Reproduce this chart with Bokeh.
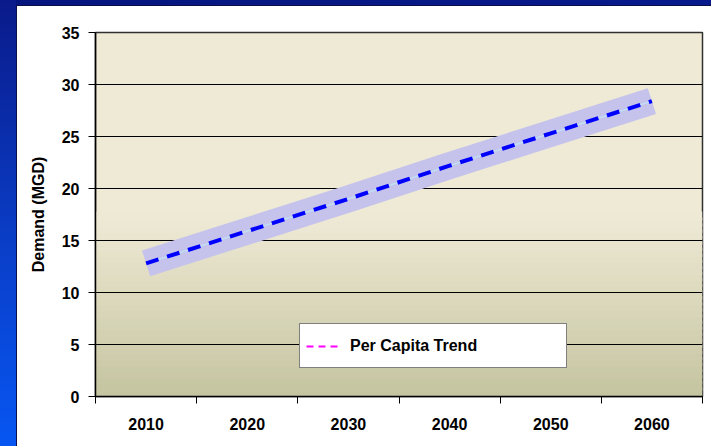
from bokeh.plotting import figure
from bokeh.models import FixedTicker, Legend, LegendItem, ColumnDataSource
from bokeh.embed import file_html
from bokeh.resources import INLINE
import numpy as np

years = ["2010", "2020", "2030", "2040", "2050", "2060"]
demand = [12.8, 15.9, 19.0, 22.2, 25.3, 28.4]
y_ticks = [0, 5, 10, 15, 20, 25, 30, 35]
y_label = "Demand (MGD)"
legend_label = "Per Capita Trend"

FONT = "Liberation Sans"

xs = [i + 0.5 for i in range(len(years))]

p = figure(width=711, height=446, output_backend="svg", toolbar_location=None,
           x_range=(0, len(years)), y_range=(0, 35),
           min_border_left=95, min_border_right=9, min_border_top=32, min_border_bottom=50)
p.border_fill_alpha = 0
p.styles = {
    "background": ("linear-gradient(to right, #0a0f4a, #0a0f4a) 16px 5px / 1px 441px no-repeat, "
                   "linear-gradient(#0a0f4a, #0a0f4a) 16px 5px / 695px 1px no-repeat, "
                   "linear-gradient(to bottom, #0a1a8a 0%, #0a3ec8 55%, #0756f2 100%) 0px 0px / 16px 446px no-repeat, "
                   "linear-gradient(to right, #06157e 0%, #071a8c 100%) 0px 0px / 711px 5px no-repeat, "
                   "#ffffff")
}
p.background_fill_color = "#efead6"
p.outline_line_color = "#303030"
p.outline_line_width = 1.5

# plot-area gradient (decoration)
nb = 30
edges = np.linspace(0, 17.5, nb + 1)
c_top = np.array([0xef, 0xea, 0xd6])
c_bot = np.array([0xc5, 0xc4, 0xa0])
cols = []
for k in range(nb):
    t = (edges[k] + edges[k + 1]) / 2 / 17.5
    c = c_bot + (c_top - c_bot) * t
    cols.append("#%02x%02x%02x" % tuple(int(round(v)) for v in c))
p.quad(left=0, right=len(years), bottom=edges[:-1], top=edges[1:] + 0.3,
       fill_color=cols, line_color=None, level="image")

# axes
p.xgrid.visible = False
p.ygrid.grid_line_color = "black"
p.ygrid.grid_line_width = 1
p.ygrid.ticker = FixedTicker(ticks=y_ticks)

p.yaxis.ticker = FixedTicker(ticks=y_ticks)
p.yaxis.axis_label = y_label
p.xaxis.ticker = FixedTicker(ticks=xs, minor_ticks=list(range(len(years) + 1)))
p.xaxis.major_label_overrides = {x: y for x, y in zip(xs, years)}
p.xaxis.major_tick_line_color = None
p.xaxis.minor_tick_line_color = "black"
p.xaxis.minor_tick_out = 7
p.xaxis.minor_tick_in = 0
p.yaxis.minor_tick_line_color = None
p.yaxis.major_tick_out = 7
p.yaxis.major_tick_in = 0
for ax in (p.xaxis[0], p.yaxis[0]):
    ax.axis_line_color = "black"
    ax.axis_line_width = 1.5
    ax.major_label_text_font = FONT
    ax.major_label_text_font_style = "bold"
    ax.major_label_text_font_size = "16px"
    ax.major_label_text_color = "black"
p.yaxis.major_label_standoff = 9
p.xaxis.major_label_standoff = 14
p.yaxis.axis_label_text_font = FONT
p.yaxis.axis_label_text_font_style = "bold"
p.yaxis.axis_label_text_font_size = "16px"
p.yaxis.axis_label_text_color = "black"
p.yaxis.axis_label_standoff = 12

# trend band, thin light line, dashed line
p.line(xs, demand, line_color="#c5c3ec", line_width=27, line_cap="butt")
p.line(xs, demand, line_color="#bfe3f5", line_width=1.2)
p.line(xs, demand, line_color="#0000ff", line_width=4, line_dash="13 9")

dummy_src = ColumnDataSource(data=dict(x=[xs[0]], y=[float("nan")]))
dummy = p.line(x="x", y="y", source=dummy_src, line_color="#ff00ff", line_width=2, line_dash="7 5")
legend = Legend(items=[LegendItem(label=legend_label, renderers=[dummy])],
                location=(204, 28), orientation="vertical",
                border_line_color="black", border_line_width=1.5,
                background_fill_color="white", background_fill_alpha=1,
                padding=6, spacing=0, margin=0,
                glyph_width=34, glyph_height=20, label_standoff=10,
                label_width=210, label_height=31,
                label_text_font=FONT, label_text_font_style="bold",
                label_text_font_size="16px", label_text_color="black")
p.add_layout(legend, "center")

open("out.html", "w").write(file_html(p, INLINE))
